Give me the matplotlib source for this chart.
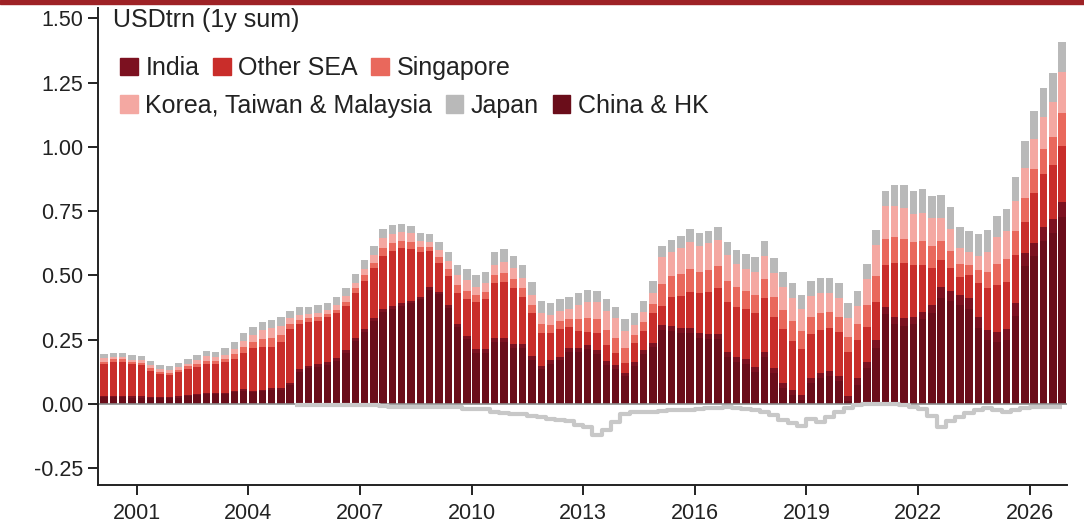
import numpy as np
import matplotlib
matplotlib.use('Agg')
from matplotlib import pyplot as plt
from matplotlib.patches import Patch, Rectangle

plt.rcParams['font.family'] = ['Liberation Sans', 'DejaVu Sans']

# quarterly data, 2000Q1 .. 2025Q4 (USD trn, 1y sum)
start_year = 2000
n_quarters = 104

china = [.027, .027, .027, .025, .025, .023, .022, .022,
         .025, .030, .033, .037, .037, .039, .045, .052,
         .047, .049, .056, .056, .073, .126, .139, .144,
         .152, .168, .200, .245, .280, .323, .359, .371,
         .381, .391, .407, .443, .427, .375, .301, .254,
         .200, .200, .240, .240, .218, .218, .172, .134,
         .156, .169, .201, .201, .214, .195, .152, .137,
         .107, .147, .195, .223, .287, .283, .277, .277,
         .255, .251, .251, .183, .162, .154, .125, .183,
         .119, .063, .034, .015, .080, .099, .110, .089,
         .011, .075, .139, .219, .348, .309, .303, .309,
         .329, .355, .413, .400, .384, .371, .297, .248,
         .241, .250, .341, .536, .575, .634, .663, .726]

india = [.005] * 20 + [.010] * 20 + [.015] * 20 + [.020] * 21 + \
        [.025, .025, .030, .030, .030, .030, .030, .030, .030,
         .040, .040, .040, .040, .040, .040, .040, .040,
         .050, .050, .050, .055, .055, .060]

other_sea = [.123, .133, .133, .127, .122, .102, .088, .086,
             .094, .102, .104, .112, .112, .119, .126, .143,
             .166, .169, .162, .179, .207, .175, .171, .170,
             .175, .174, .171, .178, .190, .194, .206, .215,
             .214, .201, .175, .143, .112, .112, .119, .145,
             .183, .194, .214, .220, .217, .184, .168, .128,
             .106, .106, .084, .068, .052, .065, .062, .045,
             .038, .076, .075, .114, .074, .114, .124, .140,
             .155, .164, .180, .192, .195, .195, .207, .208,
             .200, .207, .192, .177, .172, .169, .164, .172,
             .172, .149, .136, .149, .162, .208, .214, .201,
             .181, .142, .107, .087, .071, .090, .134, .162,
             .181, .185, .188, .123, .196, .204, .211, .217]

singapore = [.010, .008, .008, .007, .008, .009, .009, .009,
             .009, .009, .013, .014, .012, .013, .017, .020,
             .022, .029, .032, .029, .019, .016, .013, .014,
             .012, .014, .017, .017, .020, .023, .031, .029,
             .028, .027, .018, .015, .022, .026, .031, .032,
             .026, .027, .033, .034, .035, .032, .031, .034,
             .030, .031, .031, .045, .053, .054, .060, .061,
             .056, .031, .032, .036, .086, .079, .084, .087,
             .083, .085, .085, .082, .076, .069, .072, .074,
             .076, .074, .075, .070, .067, .064, .063, .059,
             .059, .060, .084, .099, .103, .101, .096, .089,
             .092, .088, .074, .069, .050, .040, .048, .064,
             .084, .089, .094, .093, .094, .100, .110, .130]

korea_tw_my = [.012, .009, .009, .008, .009, .011, .010, .010,
               .011, .011, .015, .017, .015, .016, .021, .025,
               .028, .036, .039, .036, .024, .019, .015, .017,
               .015, .017, .020, .020, .025, .029, .038, .036,
               .035, .034, .023, .019, .027, .032, .039, .040,
               .031, .033, .040, .042, .042, .040, .039, .041,
               .037, .039, .038, .056, .064, .066, .074, .075,
               .069, .038, .039, .045, .105, .096, .102, .107,
               .102, .104, .103, .101, .092, .085, .089, .090,
               .093, .090, .092, .086, .082, .078, .076, .071,
               .071, .073, .102, .121, .126, .123, .118, .109,
               .112, .107, .090, .085, .060, .049, .058, .078,
               .103, .109, .115, .114, .115, .122, .134, .158]

japan = [.018, .018, .018, .018, .018, .018, .016, .016,
         .017, .018, .020, .022, .022, .024, .028, .030,
         .032, .032, .032, .032, .030, .030, .030, .030,
         .030, .032, .032, .035, .035, .035, .035, .033,
         .032, .030, .030, .030, .030, .035, .040, .042,
         .045, .045, .050, .050, .050, .050, .050, .050,
         .050, .048, .048, .045, .045, .045, .045, .045,
         .045, .045, .045, .045, .043, .045, .046, .048,
         .048, .048, .050, .050, .055, .060, .060, .060,
         .058, .058, .056, .056, .058, .058, .058, .058,
         .058, .058, .058, .058, .060, .080, .090, .090,
         .090, .088, .088, .086, .084, .084, .084, .084,
         .082, .085, .095, .107, .110, .112, .115, .117]

# japan outflows drawn below zero
japan_neg = [0] * 21 + \
    [-.005, -.005, -.005, -.005, -.005, -.005, -.005, -.005, -.005, -.008, -.010,
     -.012, -.013, -.013, -.013, -.013, -.013, -.013, -.020,
     -.020, -.020, -.030, -.036, -.040, -.040, -.045, -.050,
     -.060, -.062, -.065, -.080, -.090, -.120, -.100, -.070,
     -.040, -.030, -.030, -.030, -.028, -.025, -.023, -.022,
     -.020, -.017, -.015, -.012, -.015, -.020, -.022, -.030,
     -.043, -.062, -.075, -.085, -.060, -.070, -.050, -.030,
     -.017, -.005, -.002, -.002, -.002, -.002, -.004, -.013,
     -.020, -.047, -.088, -.065, -.050, -.036, -.023, -.017,
     -.023, -.030, -.023, -.017, -.012, -.010, -.012, -.010]

tick_years = [2001, 2004, 2007, 2010, 2013, 2016, 2019, 2022, 2025]
tick_labels = ['2001', '2004', '2007', '2010', '2013', '2016', '2019', '2022', '2026']
y_ticks = [-0.25, 0, 0.25, 0.5, 0.75, 1.0, 1.25, 1.5]

series = [('China & HK', china, '#6a0d1a'),
          ('India', india, '#7c1120'),
          ('Other SEA', other_sea, '#c92d2a'),
          ('Singapore', singapore, '#e9685c'),
          ('Korea, Taiwan & Malaysia', korea_tw_my, '#f4a8a2'),
          ('Japan', japan, '#b9b9b9')]

x = start_year + 0.125 + 0.25 * np.arange(n_quarters)

fig = plt.figure(figsize=(10.84, 5.30), dpi=100)
ax = fig.add_axes([0.0904, 0.085, 0.8937, 0.9])

bottom = np.zeros(n_quarters)
for name, vals, col in series:
    vals = np.array(vals)
    ax.bar(x, vals, width=0.2, bottom=bottom, color=col, linewidth=0)
    bottom += vals

neg = np.array(japan_neg, dtype=float)
neg[neg >= 0] = np.nan
ax.plot(x, neg, color='#c8c8c8', lw=3.0, drawstyle='steps-mid', solid_capstyle='butt')
ax.axhline(0, color='#8c8c8c', lw=1.2, zorder=1)

ax.set_xlim(1999.96, 2026.0)
ax.set_ylim(-0.315, 1.54)
ax.set_xticks(tick_years)
ax.set_xticklabels(tick_labels)
ax.set_yticks(y_ticks)
ax.set_yticklabels(['%.2f' % v for v in y_ticks])
ax.tick_params(axis='both', labelsize=15.5, length=7, width=1.4, color='#222222',
               labelcolor='#222222', direction='out')
ax.tick_params(axis='x', pad=6)
for s in ['top', 'right']:
    ax.spines[s].set_visible(False)
for s in ['left', 'bottom']:
    ax.spines[s].set_linewidth(1.4)
    ax.spines[s].set_color('#222222')

ax.text(0.016, 0.975, 'USDtrn (1y sum)', transform=ax.transAxes, fontsize=18,
        color='#222222', va='center', ha='left')

cols = dict((n, c) for n, v, c in series)
row1 = ['India', 'Other SEA', 'Singapore']
row2 = ['Korea, Taiwan & Malaysia', 'Japan', 'China & HK']
leg_kw = dict(ncol=3, loc='center left', frameon=False, fontsize=18,
              handlelength=0.7, handleheight=0.7, handletextpad=0.3,
              columnspacing=0.55, borderpad=0, borderaxespad=0)
leg1 = ax.legend([Patch(color=cols[n]) for n in row1], row1,
                 bbox_to_anchor=(0.023, 0.874), **leg_kw)
for t in leg1.get_texts():
    t.set_color('#222222')
ax.add_artist(leg1)
leg2 = ax.legend([Patch(color=cols[n]) for n in row2], row2,
                 bbox_to_anchor=(0.023, 0.795), **leg_kw)
for t in leg2.get_texts():
    t.set_color('#222222')

# red strip at the very top
fig.patches.append(Rectangle((0, 0.992), 1, 0.008, transform=fig.transFigure,
                             color='#9e2226', zorder=10))

fig.savefig('out.png', dpi=100)
